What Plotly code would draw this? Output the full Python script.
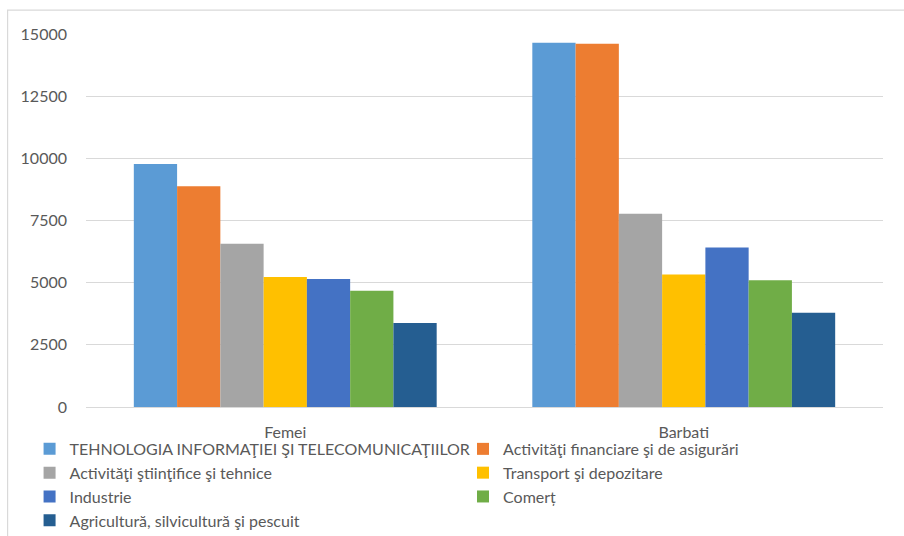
import plotly.graph_objects as go

categories = ["Femei", "Barbati"]
series_names = [
    "TEHNOLOGIA INFORMAŢIEI ŞI TELECOMUNICAŢIILOR",
    "Activităţi financiare şi de asigurări",
    "Activităţi ştiinţifice şi tehnice",
    "Transport şi depozitare",
    "Industrie",
    "Comerț",
    "Agricultură, silvicultură şi pescuit",
]
femei = [9775, 8875, 6560, 5230, 5150, 4670, 3380]
barbati = [14650, 14610, 7770, 5330, 6410, 5100, 3790]
colors = ["#5B9BD5", "#ED7D31", "#A5A5A5", "#FFC000", "#4472C4", "#70AD47", "#255E91"]
y_ticks = [0, 2500, 5000, 7500, 10000, 12500, 15000]

FONT = "Lato, Open Sans, sans-serif"
TXT = "#595959"

fig = go.Figure()
for i, name in enumerate(series_names):
    fig.add_trace(go.Bar(
        x=categories,
        y=[femei[i], barbati[i]],
        name=name,
        marker=dict(color=colors[i], line=dict(width=0)),
        legend="legend" if i % 2 == 0 else "legend2",
        legendgroup="g%d" % i,
    ))

W, H = 904, 536
ml, mr, mt, mb = 85.5, 20.5, 34, 128.5
pw, ph = W - ml - mr, H - mt - mb

def px_x(p):
    return (p - ml) / pw

def px_y(p):
    return (H - mb - p) / ph

legend_common = dict(
    orientation="v",
    xanchor="left",
    yanchor="top",
    font=dict(family=FONT, size=16, color=TXT),
    bgcolor="rgba(0,0,0,0)",
    tracegroupgap=0,
    itemclick=False,
    itemdoubleclick=False,
)

fig.update_layout(
    width=W, height=H,
    margin=dict(l=ml, r=mr, t=mt, b=mb, autoexpand=False),
    paper_bgcolor="white",
    plot_bgcolor="white",
    barmode="group",
    bargap=0.24,
    bargroupgap=0,
    font=dict(family=FONT, color=TXT),
    showlegend=True,
    legend=dict(x=px_x(29), y=px_y(432.5), **legend_common),
    legend2=dict(x=px_x(463), y=px_y(432.5), **legend_common),
    xaxis=dict(
        showgrid=False,
        showline=False,
        ticks="",
        tickfont=dict(family=FONT, size=16, color=TXT),
        ticklabelstandoff=14,
    ),
    yaxis=dict(
        range=[0, 15000],
        tickvals=y_ticks,
        ticktext=[str(v) for v in y_ticks],
        showgrid=True,
        gridcolor="#D9D9D9",
        gridwidth=1,
        zeroline=True,
        zerolinecolor="#D9D9D9",
        zerolinewidth=1,
        showline=False,
        ticks="",
        tickfont=dict(family=FONT, size=16, color=TXT),
        ticklabelstandoff=18,
    ),
    shapes=[dict(
        type="rect", xref="paper", yref="paper",
        x0=px_x(7), x1=px_x(920), y0=px_y(560), y1=px_y(10),
        line=dict(color="#D9D9D9", width=1.2),
        fillcolor="rgba(0,0,0,0)",
        layer="below",
    )],
)

fig.write_html("out.html")
